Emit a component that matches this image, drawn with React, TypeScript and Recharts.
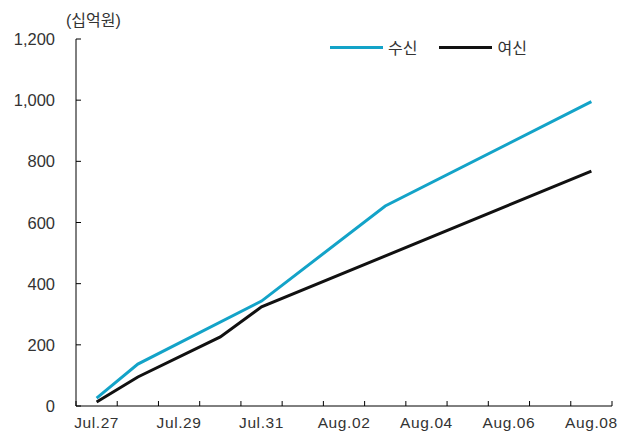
import React from "react";
import { LineChart, Line, XAxis, YAxis } from "recharts";

// category labels (one per day)
const days = [
  "Jul.27", "Jul.28", "Jul.29", "Jul.30", "Jul.31", "Aug.01", "Aug.02",
  "Aug.03", "Aug.04", "Aug.05", "Aug.06", "Aug.07", "Aug.08",
];

// 수신 (deposits), 십억원
const depositDays = ["Jul.27", "Jul.28", "Jul.31", "Aug.03", "Aug.08"];
const depositValues = [26, 137, 343, 654, 995];

// 여신 (loans), 십억원
const loanDays = ["Jul.27", "Jul.28", "Jul.30", "Jul.31", "Aug.08"];
const loanValues = [13, 95, 226, 324, 768];

const yTicks = [0, 200, 400, 600, 800, 1000, 1200];

const BLUE = "#13a3c8";
const BLACK = "#111111";
const FONT = "'Liberation Sans', 'Noto Sans CJK KR', Arial, sans-serif";

const depositData = depositDays.map((d, i) => ({ idx: days.indexOf(d), value: depositValues[i] }));
const loanData = loanDays.map((d, i) => ({ idx: days.indexOf(d), value: loanValues[i] }));

// ticks at every category centre and every boundary between categories
const xTicks = Array.from({ length: days.length * 2 + 1 }, (_, i) => i / 2 - 0.5);

function XTick(props: any) {
  const { x, y, payload } = props;
  const v = payload.value;
  if (!Number.isInteger(v)) {
    return <line x1={x} x2={x} y1={y} y2={y - 5} stroke="#000" strokeWidth={1} />;
  }
  if (v % 2 !== 0) return null;
  return (
    <text x={x} y={y + 22} textAnchor="middle" fontSize={15.5} fill="#333" fontFamily={FONT} letterSpacing={0.6}>
      {days[v]}
    </text>
  );
}

function YTick(props: any) {
  const { x, y, payload } = props;
  return (
    <g>
      <line x1={x} x2={x + 5} y1={y} y2={y} stroke="#000" strokeWidth={1} />
      <text x={x - 21} y={y + 6} textAnchor="end" fontSize={16.5} fill="#333" fontFamily={FONT}>
        {payload.value.toLocaleString("en-US")}
      </text>
    </g>
  );
}

const legendItems = [
  { name: "수신", color: BLUE },
  { name: "여신", color: BLACK },
];

export default function App() {
  return (
    <div style={{ position: "absolute", left: 0, top: 0, width: 629, height: 434, background: "#fff" }}>
      <div
        style={{
          position: "absolute",
          left: 66,
          top: 7,
          fontFamily: FONT,
          fontSize: 16,
          color: "#333",
        }}
      >
        (십억원)
      </div>
      <div
        style={{
          position: "absolute",
          left: 330,
          top: 35,
          display: "flex",
          alignItems: "center",
          fontFamily: FONT,
          fontSize: 16,
          color: "#333",
          zIndex: 2,
        }}
      >
        {legendItems.map((it) => (
          <div key={it.name} style={{ display: "flex", alignItems: "center", marginRight: 22 }}>
            <span style={{ display: "inline-block", width: 53, height: 3, background: it.color, marginRight: 5 }} />
            <span>{it.name}</span>
          </div>
        ))}
      </div>
      <LineChart width={629} height={434} margin={{ top: 39, right: 17, bottom: 0, left: 0 }}>
        <XAxis
          type="number"
          dataKey="idx"
          domain={[-0.5, days.length - 0.5]}
          ticks={xTicks}
          interval={0}
          tick={<XTick />}
          tickLine={false}
          tickSize={0}
          tickMargin={0}
          height={28}
          axisLine={{ stroke: "#000" }}
        />
        <YAxis
          domain={[0, 1200]}
          ticks={yTicks}
          interval={0}
          tick={<YTick />}
          tickLine={false}
          tickSize={0}
          tickMargin={0}
          width={76}
          axisLine={{ stroke: "#000" }}
        />
        <Line
          data={depositData}
          dataKey="value"
          name="수신"
          stroke={BLUE}
          strokeWidth={3}
          dot={false}
          type="linear"
          isAnimationActive={false}
        />
        <Line
          data={loanData}
          dataKey="value"
          name="여신"
          stroke={BLACK}
          strokeWidth={3}
          dot={false}
          type="linear"
          isAnimationActive={false}
        />
      </LineChart>
    </div>
  );
}
